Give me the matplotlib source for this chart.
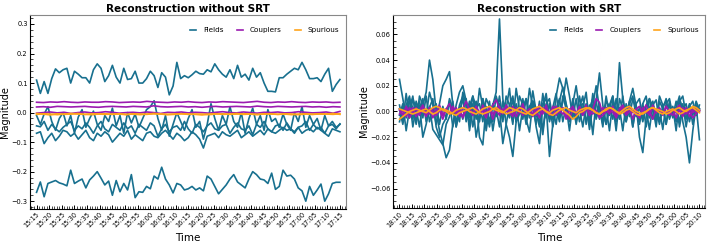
import matplotlib
matplotlib.use('Agg')
import matplotlib.pyplot as plt
import matplotlib.dates as mdates
from matplotlib.ticker import AutoMinorLocator
import pandas as pd

# values in units of 1e-3
left_start, left_end = '2024-01-01 15:15', '2024-01-01 17:15'
right_start, right_end = '2024-01-01 18:10', '2024-01-01 20:10'

left_fields = [
    [110, 65, 105, 65, 115, 148, 135, 145, 150, 100, 140, 130, 118, 118, 100, 145, 165, 150, 105, 125,
     160, 120, 100, 150, 112, 115, 140, 100, 100, 115, 140, 125, 85, 135, 120, 60, 90, 170, 115, 125,
     118, 128, 140, 132, 130, 145, 138, 165, 145, 130, 120, 145, 115, 160, 120, 130, 110, 150, 120, 135,
     100, 72, 72, 70, 118, 118, 130, 140, 150, 145, 170, 145, 115, 115, 118, 105, 130, 150, 72, 95, 112],
    [-270, -235, -285, -240, -235, -230, -238, -242, -248, -195, -240, -232, -225, -255, -228, -215, -200,
     -222, -245, -232, -280, -230, -268, -240, -262, -210, -288, -268, -270, -250, -258, -215, -225, -185,
     -225, -245, -272, -240, -245, -262, -258, -250, -262, -255, -265, -215, -225, -250, -275, -260, -245,
     -225, -210, -235, -245, -255, -225, -200, -210, -225, -228, -240, -205, -260, -250, -195, -215, -212,
     -225, -255, -265, -300, -250, -280, -262, -242, -300, -275, -240, -236, -236],
    [-10, -40, -5, 20, -30, -60, -20, 0, -45, -10, -70, -15, 10, -50, -20, 5, -40, -60, -10, -30, 15,
     -45, -10, -70, 0, -35, -5, -50, -20, 10, 20, 40, -20, -60, -10, -80, -40, 0, -30, -60, -20, 10,
     -50, -30, -90, -40, 30, -20, -60, -10, -40, 20, -30, -50, 0, -70, -20, 15, -40, -10, -60, 10,
     -30, -20, -50, -5, -40, -60, 0, -30, 20, -50, -10, -40, -20, -60, -10, -45, -30, -50, -40],
    [-45, -48, -30, -60, -40, -55, -65, -50, -40, -30, -60, -45, -55, -35, -50, -70, -45, -30, -55, -65,
     -40, -50, -60, -35, -55, -45, -70, -40, -50, -60, -35, -45, -80, -55, -40, -65, -50, -45, -60, -30,
     -55, -70, -40, -50, -65, -45, -35, -55, -60, -45, -40, -70, -50, -35, -55, -60, -45, -75, -40, -50,
     -30, -55, -65, -45, -40, -60, -35, -55, -70, -50, -45, -30, -60, -40, -55, -50, -70, -45, -40, -55, -38],
    [-70, -65, -105, -85, -70, -95, -80, -60, -65, -80, -70, -90, -75, -60, -85, -95, -70, -80, -65, -75,
     -100, -85, -70, -80, -60, -90, -75, -85, -95, -70, -65, -80, -85, -70, -60, -75, -90, -70, -80, -95,
     -85, -65, -75, -90, -120, -80, -75, -70, -85, -65, -75, -80, -70, -60, -85, -75, -65, -80, -70, -60,
     -75, -55, -65, -70, -60, -50, -60, -55, -65, -50, -70, -60, -55, -65, -50, -60, -70, -80, -55, -60, -65],
]
left_couplers = [
    [35, 34, 36, 35, 37, 35, 34, 36, 35, 35, 37, 36, 34, 35, 36, 35, 38, 36, 35, 34, 36, 35, 37, 35, 34,
     36, 35, 37, 36, 35, 34, 36, 38, 35, 34, 36, 35, 37, 35, 34, 36, 35, 36, 34, 35],
    [19, 20, 18, 21, 20, 19, 20, 21, 19, 18, 20, 21, 20, 19, 21, 20, 19, 23, 20, 19, 20, 21, 19, 20, 18,
     20, 21, 19, 20, 21, 20, 19, 22, 20, 19, 21, 20, 19, 20, 21, 19, 20, 18, 20, 19],
    [-2, 0, 2, -1, 1, -3, 0, 2, -1, 0, 3, 1, -2, 0, 1, -1, 2, 0, -3, 1, 0, 2, -1, 1, 0, -2, 1, 3, 0, -1,
     2, 0, -2, 1, 0, 2, -1, 0, 3, 1, -1, 0, 2, -2, 4],
]
left_spurious = [
    [-6, -4, -5, -7, -5, -3, -5, -6, -4, -5, -6, -5, -4, -6, -5, -7, -5, -4, -5, -6, -5, -4, -6, -5, -5,
     -7, -5, -4, -6, -5, -4, -5, -6, -5, -4, -6, -5, -7, -5, -4, -6, -5, -5, -6, -4],
    [-3, -5, -8, -4, -6, -5, -3, -6, -7, -5, -4, -6, -5, -7, -4, -5, -6, -3, -5, -7, -6, -4, -5, -6, -8,
     -5, -4, -6, -5, -3, -6, -5, -7, -4, -5, -6, -4, -5, -7, -5, -6, -4, -5, -3, -6],
]

right_fields = [
    [25, 10, -5, 8, 3, -10, 12, 5, 15, 40, 25, 0, -15, -25, -36, -30, -10, 5, 15, 20, 8, -5, 12, 3, -8,
     10, 0, -12, 5, 15, 72, 10, -10, -20, -35, -8, 12, 5, -5, 18, 3, -10, 8, -15, 5, -35, -10, 12, 26,
     18, 5, -8, 10, -5, 3, 12, -10, 5, -18, 8, 30, 5, -10, 2, 12, -8, 38, 10, -5, 8, -12, 5, -20, -32,
     -5, 10, 3, -8, 12, 5, -10, 8, -5, 3, 12, -8, -20, -40, -15, 5, -22],
    [5, -8, 14, -5, 10, 2, -12, 8, -3, 15, 5, -10, 6, 20, 25, 31, 5, -12, 0, 10, -8, 4, 12, -6, 18, 3,
     -10, 8, -15, 2, 6, -8, 12, 5, -10, 18, 2, -6, 10, -3, 16, 0, -12, 6, 10, -8, 3, 14, -5, 8, 26, 12,
     -5, 10, -8, 3, 15, -10, 5, 20, 2, -8, 12, -3, 6, -15, 10, 2, -6, 8, 18, 4, -10, 6, 12, -5, 3, -12,
     8, 2, 10, -6, 4, -15, 8, 12, -3, 6, -10, 5, 2],
    [-3, 6, -15, 2, 12, -8, 5, -20, -10, 3, 10, -12, -20, -10, -5, 8, -12, 2, -8, 15, 5, -10, 6, -20,
     -5, 10, -15, 3, -8, 12, 2, -25, -10, 5, 12, -8, -2, 10, -6, -16, 8, 2, -10, 14, -5, 6, -12, 2, 10,
     -8, 4, -15, 6, 20, 2, -12, 5, -8, 14, -4, 6, -10, 3, -15, 8, 2, -6, 12, -8, 4, -12, 6, 10, -6, 2,
     -14, 5, 9, -8, 3, -10, 6, -4, 8, -12, 2, 6, -8, 4, -3, 2],
    [2, -10, 5, 12, -6, 8, -3, 10, -8, 4, -14, -18, -22, -26, -10, -4, 8, -12, 3, -6, 10, -15, 2, 8,
     -20, -26, 4, -8, 6, -4, 12, -6, 2, 18, -8, 6, -15, 3, 10, -5, 8, -12, -25, 4, 14, -6, 2, -10, 8,
     19, 6, -5, 2, -8, 12, -3, 6, -14, 4, 8, -6, 2, -10, 5, 12, -8, 3, -15, 6, -4, 10, 2, -8, 6, -12,
     3, 8, -5, 2, -14, 6, 10, -4, 3, -8, 6, -12, 4, 8, -3, 5],
    [-8, 4, -2, 10, -12, 3, 8, -5, 12, -8, 2, 6, -10, 4, -6, 10, 2, -8, 5, 12, -4, 8, -12, 3, 6, -8,
     10, 4, -6, 2, -12, 8, 3, -5, 10, -8, 2, 6, -10, 4, 8, -4, 2, -18, 6, 10, -6, 3, -8, 12, 2, -4, 8,
     -10, 4, 6, -8, 2, 10, -6, 3, -12, 8, 4, -6, 10, -3, 2, -8, 6, 12, -4, 3, -8, 5, 10, -6, 2, -10, 4,
     8, -5, 3, -8, 10, 2, -6, 4, -3, 8, 1],
]
right_couplers = [
    [2, -3, 4, -1, 3, -4, 1, 5, -2, 3, -5, 0, 4, -3, 2, 6, -1, 3, -4, 2, 8, 1, -3, 4, -2, 5, -1, 3, -6,
     2, 4, -2, 5, 1, -3, 3, -1, 6, -2, 2, -4, 3, 1, -2, 5, -3, 2, 4, -1, 3, -5, 1, 4, -2, 3, -1, 5, -3,
     2, 0, -4, 3, 1, -2, 4, -3, 2, 5, -1, 3, -6, 2, 4, -2, 1, -3, 5, -1, 3, -2, 4, 0, -3, 2, 5, -1, 3,
     -4, 2, -1, 1],
    [-2, 1, -4, 3, -1, 2, -3, 4, 0, -2, 3, -1, 5, -3, 1, -2, 4, -1, 2, -5, 1, 3, -2, 4, -1, 2, -3, 1, 5,
     9, 2, -1, 3, -2, 4, -4, 1, 3, -2, 0, 2, -3, 5, -1, 2, -2, 4, -3, 1, 3, -6, 2, 1, -2, 4, -1, 3, -3,
     2, 10, 7, -2, 3, -1, 2, -5, 1, 4, -2, 3, -1, 2, -4, 1, 5, -2, 3, -1, 2, -3, 4, -1, 2, -5, 1, 3, -2,
     2, -1, 3, 0],
    [1, -2, 2, -5, 0, 3, -2, 1, -4, 2, 0, -3, 1, -6, 2, -1, 3, -2, 0, -4, 2, 1, -3, 2, -1, 0, -5, 3, -2,
     1, -3, 2, 0, -1, -4, 2, 1, -3, 0, 2, -2, 1, -5, 3, -1, 0, -3, 2, 1, -2, 0, -6, 2, -1, 1, -3, 2, 0,
     -2, 1, -5, -3, 0, 2, -1, -4, 1, 2, -3, 0, 1, -2, -5, 3, -1, 0, -6, 2, 1, -2, 0, -3, 2, -1, 1, -4,
     2, 0, -5, -2, 1],
]
right_spurious = [
    [-6, -4, -2, 0, 1, 2, 1, 0, -1, 1, 3, 4, 3, 1, 0, -2, -1, 1, 2, 3, 2, 0, -1, -2, 0, 2, 3, 4, 2, 1, 0,
     -1, 1, 3, 2, 1, 0, -1, -2, 0, 2, 3, 4, 2, 0, -2, -3, -1, 1, 2, 3, 1, 0, -1, 1, 2, 3, 2, 1, -1, -2,
     0, 2, 3, 2, 0, -1, 1, 3, 4, 2, 0, -1, -2, 0, 2, 3, 2, 1, 0, -2, -1, 1, 2, 3, 1, 0, 2, 4, 3, 1],
    [2, 1, 0, -1, -2, -1, 0, 1, 2, 0, -2, -1, 1, 2, 1, 0, -2, -3, -1, 0, 1, 2, 3, 1, -1, -2, -1, 0, 2, 3,
     1, 0, -2, -1, 0, 1, 3, 2, 0, -2, -3, -1, 1, 2, 0, -1, 1, 2, 3, 1, -1, -3, -6, -4, -1, 0, 2, 3, 1,
     -1, -2, 0, 1, 3, 2, 0, -2, -1, 1, 2, 0, -2, -3, -1, 0, 2, 3, 1, -1, -2, 0, 1, 2, 0, -2, -1, 1, 2,
     3, 1, -1],
]

col_fields = '#18708f'
col_couplers = '#9b1bb0'
col_spurious = '#ffa41b'


def draw_panel(ax, start, end, fields, couplers, spurious, title):
    groups = [(fields, col_fields, 'Fields'),
              (couplers, col_couplers, 'Couplers'),
              (spurious, col_spurious, 'Spurious')]
    for series_list, col, name in groups:
        for i, vals in enumerate(series_list):
            t = pd.date_range(start, end, periods=len(vals))
            ax.plot(t, [v / 1000 for v in vals], color=col, lw=1.2,
                    label=name if i == 0 else None)

    ax.set_title(title, fontsize=7.5, fontweight='bold', pad=2)
    ax.set_xlabel('Time', fontsize=7.5, labelpad=3)
    ax.set_ylabel('Magnitude', fontsize=7, labelpad=1)
    ax.margins(x=0.02)
    ax.xaxis.set_major_locator(mdates.MinuteLocator(byminute=range(0, 60, 5)))
    ax.xaxis.set_minor_locator(mdates.MinuteLocator())
    ax.xaxis.set_major_formatter(mdates.DateFormatter('%H:%M'))
    ax.yaxis.set_minor_locator(AutoMinorLocator())
    ax.tick_params(which='both', direction='in', labelsize=4.8, pad=2)
    ax.tick_params(which='major', length=3, width=0.7)
    ax.tick_params(which='minor', length=2.2, width=0.5)
    plt.setp(ax.get_xticklabels(), rotation=45, ha='right', rotation_mode='anchor')
    for s in ['top', 'right']:
        ax.spines[s].set_color('#888888')
    ax.legend(loc='upper right', ncol=3, frameon=False, fontsize=5.2,
              handlelength=0.8, columnspacing=1.8, handletextpad=1.0,
              bbox_to_anchor=(1.0, 0.97))


fig = plt.figure(figsize=(7.09, 2.48), dpi=100)
ax1 = fig.add_axes([0.043, 0.159, 0.445, 0.78])
ax2 = fig.add_axes([0.555, 0.162, 0.44, 0.777])

draw_panel(ax1, left_start, left_end, left_fields, left_couplers, left_spurious,
           'Reconstruction without SRT')
ax1.set_ylim(-0.325, 0.33)
draw_panel(ax2, right_start, right_end, right_fields, right_couplers, right_spurious,
           'Reconstruction with SRT')
ax2.set_ylim(-0.075, 0.075)

fig.savefig('out.png', dpi=100)
plt.close(fig)
